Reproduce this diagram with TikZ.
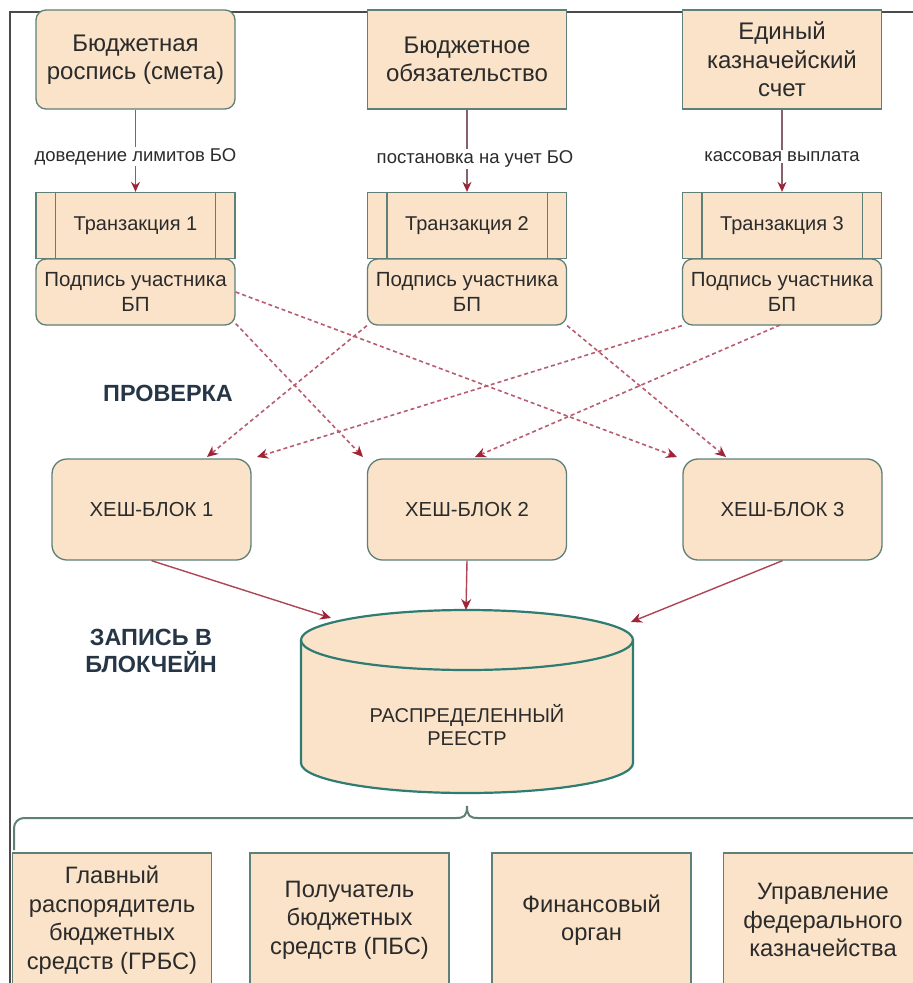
\documentclass[tikz,border=0pt]{standalone}
\usepackage{fontspec}
\setmainfont{Liberation Sans}
\usetikzlibrary{arrows.meta,calc}
\definecolor{boxfill}{HTML}{FAE3C9}
\definecolor{boxline}{HTML}{5E8079}
\definecolor{cylline}{HTML}{2F7C73}
\definecolor{arrred}{HTML}{9E2436}
\definecolor{arrline}{HTML}{86606A}
\definecolor{dashred}{HTML}{B85C70}
\definecolor{frameline}{HTML}{4A4A4A}
\definecolor{txt}{HTML}{2B2B2B}
\definecolor{headtxt}{HTML}{263646}
\tikzset{
  base/.style={draw=boxline, fill=boxfill, line width=1.3pt, text=txt, align=center, inner sep=0pt},
  topbox/.style={base, minimum width=199pt, minimum height=99pt, font=\fontsize{24}{28.5}\selectfont},
  trbox/.style={base, minimum width=199pt, minimum height=66pt, font=\fontsize{20}{25}\selectfont},
  sigbox/.style={base, rounded corners=10pt, minimum width=199pt, minimum height=66pt, font=\fontsize{20.5}{25}\selectfont},
  hashbox/.style={base, rounded corners=15pt, minimum width=199pt, minimum height=101pt, font=\fontsize{20.3}{24}\selectfont},
  botbox/.style={base, minimum width=199pt, minimum height=134pt, font=\fontsize{23.7}{28.5}\selectfont},
  regtext/.style={text=txt, align=center, inner sep=0pt, font=\fontsize{20}{23}\selectfont},
  head/.style={text=headtxt, align=center, inner sep=0pt, font=\fontsize{23.4}{27}\selectfont\bfseries},
  lbl/.style={fill=white, text=txt, inner sep=1.5pt, font=\fontsize{18.5}{20}\selectfont},
  toparrow/.style={draw=arrline, line width=1.3pt, -{Stealth[length=10pt,width=9pt,color=arrred]}},
  solidarrow/.style={draw=arrred!85, line width=1.4pt, -{Stealth[length=11pt,width=10pt,color=arrred]}},
  dasharrow/.style={draw=dashred, line width=1.6pt, dash pattern=on 4pt off 3pt, -{Stealth[length=11pt,width=10pt,color=arrred]}},
  procline/.style={draw=boxline, line width=1.3pt}
}
\begin{document}
\begin{tikzpicture}[x=1pt,y=-1pt]
\useasboundingbox (0,0) rectangle (913,983);
\clip (0,0) rectangle (913,983);
\fill[white] (0,0) rectangle (913,983);

% frame
\draw[frameline, line width=2pt] (10,990) -- (10,12) -- (920,12);

% brace
\draw[boxline, line width=2pt, rounded corners=10pt] (14,850) -- (14,818) -- (456,818);
\draw[boxline, line width=2pt] (456,818) .. controls (464,818) and (467,816) .. (467,806)
  .. controls (467,816) and (470,818) .. (478,818) -- (930,818);

% top boxes
\node[topbox, rounded corners=10pt] (top1) at (135.5,59.5) {Бюджетная\\роспись (смета)};
\node[topbox] (top2) at (467,59.5) {Бюджетное\\обязательство};
\node[topbox] (top3) at (782,59.5) {Единый\\казначейский\\счет};

% transactions
\node[trbox] (tr1) at (135.5,225.5) {Транзакция 1};
\node[trbox] (tr2) at (467,225.5) {Транзакция 2};
\node[trbox] (tr3) at (782,225.5) {Транзакция 3};
\foreach \t in {tr1,tr2,tr3}{
  \draw[procline] ($(\t.north west)+(20,0)$) -- ($(\t.south west)+(20,0)$);
  \draw[procline] ($(\t.north east)+(-20,0)$) -- ($(\t.south east)+(-20,0)$);
}

% signatures
\node[sigbox] (sig1) at (135.5,292) {Подпись участника\\БП};
\node[sigbox] (sig2) at (467,292) {Подпись участника\\БП};
\node[sigbox] (sig3) at (782,292) {Подпись участника\\БП};

% arrows top -> transactions
\draw[toparrow] (top1.south) -- node[lbl, pos=0.57] {доведение лимитов БО} (tr1.north);
\draw[toparrow] (top2.south) -- node[lbl, pos=0.6, xshift=8pt] {постановка на учет БО} (tr2.north);
\draw[toparrow] (top3.south) -- node[lbl, pos=0.57] {кассовая выплата} (tr3.north);

% hash blocks
\node[hashbox] (h1) at (151.5,509.5) {ХЕШ-БЛОК 1};
\node[hashbox] (h2) at (467,509.5) {ХЕШ-БЛОК 2};
\node[hashbox] (h3) at (782.5,509.5) {ХЕШ-БЛОК 3};

% headings
\node[head] (chk) at (168,393) {ПРОВЕРКА};
\node[head] (rec) at (151,651) {ЗАПИСЬ В\\БЛОКЧЕЙН};

% dashed arrows signatures -> hash blocks
\coordinate (e11) at (207,457);
\coordinate (e12) at (257,457);
\coordinate (e21) at (363,457);
\coordinate (e22) at (475,457);
\coordinate (e31) at (677,457);
\coordinate (e32) at (726,457);
\coordinate (s3m) at (780,325);
\draw[dasharrow] (sig1.east) -- (e31);
\draw[dasharrow] ($(sig1.south east)+(0,-2)$) -- (e21);
\draw[dasharrow] (sig2.south west) -- (e11);
\draw[dasharrow] (sig2.south east) -- (e32);
\draw[dasharrow] (sig3.south west) -- (e12);
\draw[dasharrow] (s3m) -- (e22);

% cylinder
\fill[boxfill] (301,640) -- (301,763) arc[start angle=180,end angle=0,x radius=166,y radius=30]
  -- (633,640) arc[start angle=0,end angle=-180,x radius=166,y radius=30] -- cycle;
\draw[cylline, line width=2.2pt] (301,640) -- (301,763) arc[start angle=180,end angle=0,x radius=166,y radius=30] -- (633,640);
\draw[cylline, line width=2.2pt] (467,640) ellipse [x radius=166, y radius=30];
\node[regtext] (reg) at (467,725.5) {РАСПРЕДЕЛЕННЫЙ\\РЕЕСТР};
\coordinate (regL) at (331,618);
\coordinate (regT) at (466,610);
\coordinate (regR) at (631,622);

% solid arrows hash -> registry
\draw[solidarrow] (h1.south) -- (regL);
\draw[solidarrow] (h2.south) -- (regT);
\draw[solidarrow] (h3.south) -- (regR);

% bottom boxes
\node[botbox] (b1) at (112,920) {Главный\\распорядитель\\бюджетных\\средств (ГРБС)};
\node[botbox] (b2) at (349.5,920) {Получатель\\бюджетных\\средств (ПБС)};
\node[botbox] (b3) at (591.5,920) {Финансовый\\орган};
\node[botbox] (b4) at (823,920) {Управление\\федерального\\казначейства};
\end{tikzpicture}
\end{document}
